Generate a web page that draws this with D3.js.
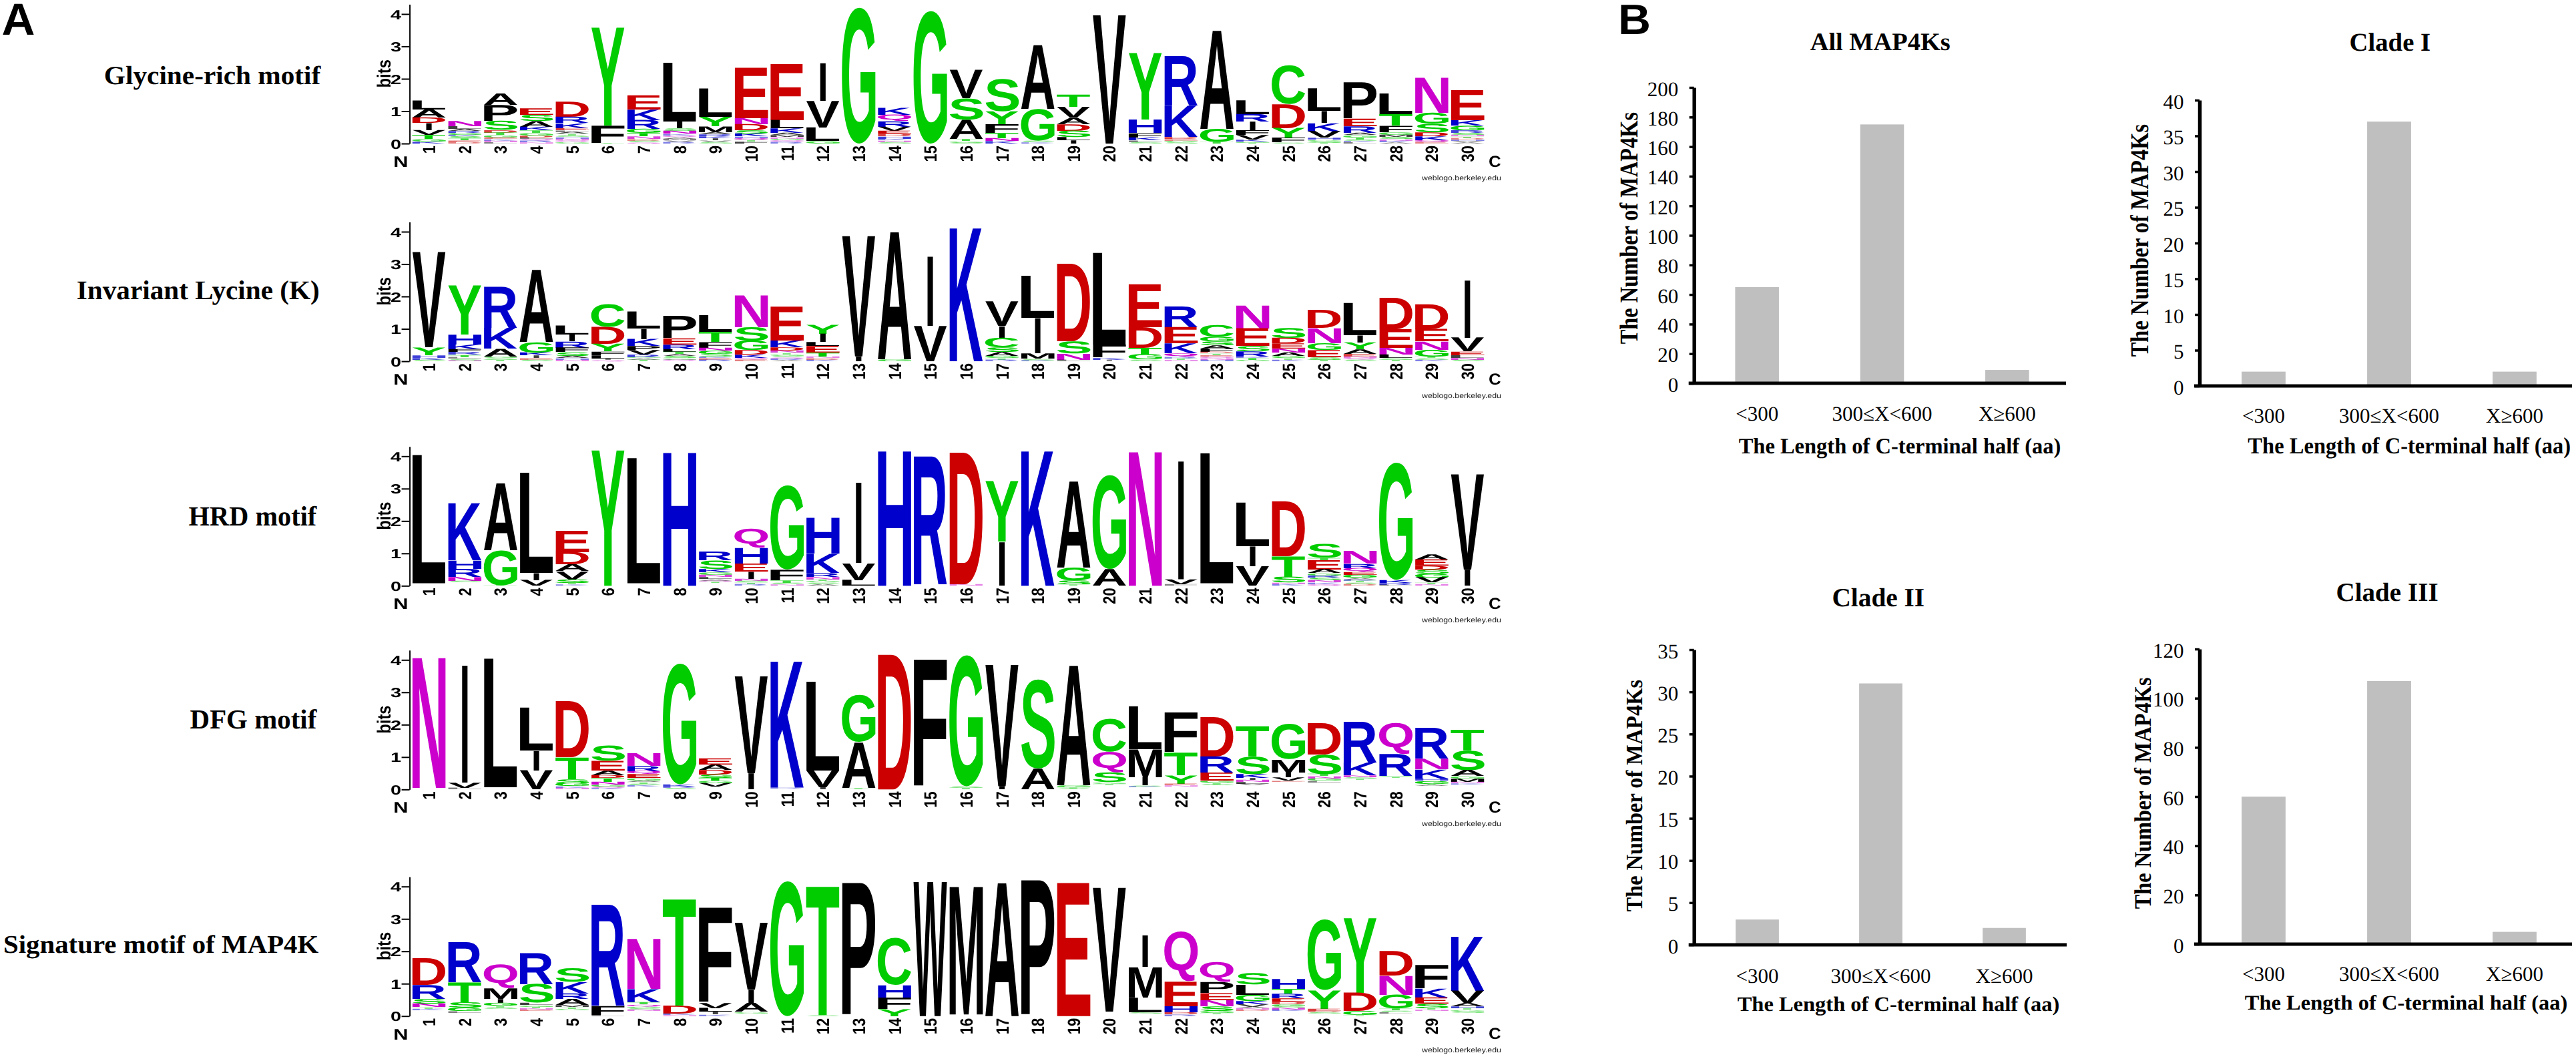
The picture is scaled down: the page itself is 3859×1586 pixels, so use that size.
<!DOCTYPE html>
<html><head><meta charset="utf-8">
<script src="https://cdn.jsdelivr.net/npm/d3@7/dist/d3.min.js"></script>
<style>html,body{margin:0;background:#fff}svg{display:block}text{text-rendering:geometricPrecision}</style>
</head><body><svg id="c" width="3859" height="1586"><defs><filter id="soft" x="0" y="0" width="100%" height="100%" filterUnits="objectBoundingBox"><feGaussianBlur stdDeviation="0.7"/></filter></defs></svg>
<script>
// ---- Sequence-logo values: one string per position, letters top to bottom with heights in bits ("_" = empty space)
const glycineRich = [
"L.28 A.26 D.17 I.22 V.15 T.12 G.08 K.06","N.16 L.08 A.07 R.06 G.06 K.05 S.06 T.06 E.05 D.05","A.36 P.5 S.28 D.08 T.08 G.07 E.05 K.05 N.05 L.04","E.2 S.19 A.18 K.11 T.08 G.08 D.06 L.05 Q.05 R.05 N.04","D.47 R.19 K.15 E.07 L.05 A.06 T.05 S.05 H.05 N.05 Q.05 G.05","Y3.03 F.54 T.02",
"E.44 K.33 R.28 G.13 T.1 N.08 D.05 S.05 Q.04","L1.82 I.22 S.08 N.09 K.05 Q.05 A.05 M.05 V.05 R.05","L.88 Y.29 M.18 A.07 R.06 K.06 I.06 V.05 S.05","E1.56 N.19 D.19 S.1 K.09 H.05 Q.06 T.05 F.06","E1.74 L.26 K.14 A.07 M.06 N.05 G.05 Q.05 R.05","I1.18 V.82 L.42 G.08",
"G4.2","K.22 Q.2 R.17 V.13 E.09 D.08 H.07 K.05 N.05 S.05","G4.1","V.88 S.66 A.6 T.06 G.05 S.03","S1.0 Y.4 F.27 T.16 N.09 K.08","A2.0 G.98 S.05 K.04",
"T.38 V.33 A.2 D.2 S.2 L.1 I.1","V3.97","Y2.06 H.42 F.13 K.09 L.05 S.05","R1.53 K.98 D.06 E.05 G.05 S.04","A3.08 G.4 T.06","L.43 R.23 I.27 F.15 V.14 K.06 G.03 T.03",
"C1.2 D.74 Y.3 F.15 S.03","L.7 I.37 K.26 V.2 H.06 G.05 S.04 T.03","P1.13 E.23 R.2 A.07 G.07 T.06 S.05 K.04 L.04","L.64 T.36 F.2 G.08 M.07 S.06 N.05 K.05 A.04","N1.1 G.34 S.26 D.12 K.12 Q.06 E.05","E.93 K.17 G.14 R.08 S.06 N.05 T.05 D.05 H.04 V.04 A.04"];
const invariantLysine = [
"V2.95 Y.24 H.08 K.06 S.05","Y1.52 H.31 K.15 F.09 R.08 T.07 L.05 S.05 N.03","R1.27 K.65 A.24 G.05 S.05 T.05","A2.26 G.32 K.09 I.08 E.05 S.05","L.28 I.21 R.19 F.14 S.11 A.07 H.05 N.05","C.7 D.53 Y.23 F.11 L.1 I.05 Q.04",
"L.53 I.32 K.22 P.12 V.14 R.08 G.03 A.05 T.05","P.69 E.19 R.14 L.09 T.07 A.06 S.06 G.05 Q.05","L.52 T.31 F.18 N.09 G.1 S.08 K.04 E.05 R.05","N1.0 S.42 G.3 D.14 K.1 Q.05 E.05","E1.05 K.21 D.1 N.07 T.05 G.05 S.04 Q.04 R.04 A.04","Y.28 I.26 L.12 E.2 T.12 N.05 D.05 K.05",
"V3.72 I.15","A3.99 G.06","I2.17 V1.09","K4.17","V.76 I.36 C.3 S.14 A.12 G.07 T.05 R.05","L1.3 I1.1 M.16 S.05 K.03",
"D2.4 S.37 N.19 L.05","L2.84 F.4 K.06 I.05","E1.33 D.64 T.21 G.16 S.05","R.64 E.5 K.31 Q.1 R.05 T.05 N.04","C.36 G.14 S.12 A.1 F.1 D.05 T.05 E.04 Q.05 N.05 H.05","N.72 E.55 S.16 R.16 K.04 T.06 G.05",
"S.31 D.17 E.16 N.12 A.11 G.06 T.05 K.05","D.56 N.47 G.21 E.22 S.08 T.05","L1.0 I.22 Y.21 A.14 E.08 N.05 Q.05 S.05","D.97 E.58 N.21 L.11 S.05 T.05","D.77 E.38 N.26 G.21 T.05 S.05 K.05","I1.8 V.43 E.11 L.08 N.06 S.05"];
const hrdMotif = [
"L3.97 _.08","K1.79 H.26 R.25 N.12 S.05 _.1","A2.1 G1.08 T.02","L3.1 I.22 V.18","E.66 D.38 A.21 V.25 S.11 T.05 K.04","Y4.19",
"L3.87 _.08","H4.17","R.27 S.26 K.1 G.08 N.07 L.06 A.05 Q.04 T.04 _.08","Q.59 H.49 E.25 I.22 N.07 S.05 T.05 R.05","G2.6 F.33 T.08 S.05 N.04","H1.12 K.6 R.12 N.08 T.05 G.05 S.05 A.05",
"I2.52 V.52 L.18","H4.22","R3.95 _.05","D4.07 N.05","Y1.87 I1.36","K4.22",
"A2.7 G.4 S.12 T.04","G2.9 A.52","N4.19","I3.7 V.15 F.05","L4.02 _.08","L1.35 I.62 V.6",
"D1.7 T.64 S.18 N.05 K.05","S.43 T.07 E.29 A.12 G.07 R.07 S.08 N.07 K.05 Q.05","N.4 R.13 Q.12 E.09 G.09 A.05 K.05 T.05 S.05 D.05","G3.63 K.09 R.06 L.03","A.16 E.19 D.12 S.12 G.12 V.16 T.05 N.05","V2.95 I.5"];
const dfgMotif = [
"N4.07 _.05","I3.67 V.16 L.05","L3.98 _.07","L1.33 I.61 V.59","D1.74 T.68 S.12 G.1 K.05 N.05","S.47 E.3 A.14 D.09 T.11 N.09 G.06 Q.05 K.04",
"N.4 R.16 Q.1 E.12 G.07 A.05 T.05 S.05 K.05 _.08","G3.73 K.07 R.05 S.04","E.19 A.17 D.14 S.1 T.09 G.08 V.11 _.08","V3.0 I.5","K3.95 R.03 _.03","L2.75 V.52 I.07",
"G1.45 A1.42 T.04","D4.17","F3.95 _.07","G4.05 S.05 T.05","V3.75 I.1","S2.75 A.65",
"A3.75 G.06 T.04 S.03","C1.02 Q.64 S.3 G.05 T.04 _.14","L1.33 M.87 I.26 S.03 K.03 _.06","F1.24 T.71 Y.26 E.05 N.04 _.08","D1.22 R.5 E.25 G.06 T.05 S.04 _.12","T.95 S.54 K.12 I.06 N.07 L.06 V.05 _.12",
"G1.09 M.4 I.16 V.1 E.03 _.24","D.97 S.6 T.07 N.07 G.07 L.05 _.22","R1.26 K.4 N.06 S.04 T.04 _.3","Q.96 R.68 G.03 T.03 _.35","R.95 N.33 K.28 H.07 G.09 T.04 A.04 _.1","T.65 S.6 A.19 G.07 M.1 N.05 K.04 _.15"];
const signatureMotif = [
"D.83 R.43 S.14 N.11 T.05 K.05 _.18","R1.24 T.62 S.17 G.1 L.05 _.1","Q.74 M.33 I.12 G.09 T.05 S.05 _.22","R.96 S.58 L.07 G.05 T.05 N.05 E.04 _.15","S.42 K.36 R.17 A.19 M.06 T.05 G.05 _.18","R3.12 F.28 L.04",
"N1.57 K.41 T.07 Q.06 G.05 S.05 N.05 _.15","T3.33 D.25 K.05 N.03","F2.95 V.16 L.12 I.08 K.05","V2.07 I.41 A.27 G.05 _.08","G4.17","T4.03 S.03",
"P4.12","C1.46 H.38 F.36 Y.22","W4.15","M4.0 _.05","A4.17","P4.2",
"E4.12","V3.83 _.14","I.99 M.95 L.45 S.04 _.08","Q1.54 E.76 H.19 D.07 R.05","Q.62 P.34 E.22 N.19 S.14 G.06 T.04 _.06","S.35 L.31 G.19 K.1 V.08 A.05 N.05 D.04 _.15",
"H.31 T.14 R.14 E.1 D.08 G.06 S.05 N.06 K.05 _.15","G2.18 Y.57 E.07 D.04 S.05 _.07","Y2.31 D.57 G.12 T.03","D.76 N.59 G.43 T.06 S.05 L.04 _.08","F.73 K.28 E.19 S.14 T.05 N.04 _.15","K1.7 V.38 A.1 H.06 T.05 G.05 S.04 _.1"];
const logoLabels = ["Glycine-rich motif","Invariant Lycine (K)","HRD motif","DFG motif","Signature motif of MAP4K"];
const logoSeries = [glycineRich,invariantLysine,hrdMotif,dfgMotif,signatureMotif];
const bitTicks = [0,1,2,3,4];
const positions = d3.range(1,31);

// ---- Bar chart values
const lengthCategories = ["<300","300≤X<600","X≥600"];
const allCounts = [65,175,9];
const cladeICounts = [2,37,2];
const cladeIICounts = [3,31,2];
const cladeIIICounts = [60,107,5];
const barTitles = ["All MAP4Ks","Clade I","Clade II","Clade III"];
const barSeries = [allCounts,cladeICounts,cladeIICounts,cladeIIICounts];
const yMaxes = [200,40,35,120];
const yTickSteps = [20,5,5,20];
const xTitle = "The Length of C-terminal half (aa)";
const yTitle = "The Number of MAP4Ks";

// ---- Layout and style (kept apart from the values)
const residueColor = {G:"#00CC00",S:"#00CC00",T:"#00CC00",Y:"#00CC00",C:"#00CC00",N:"#CC00CC",Q:"#CC00CC",K:"#0000CC",R:"#0000CC",H:"#0000CC",D:"#CC0000",E:"#CC0000"};
const logoBaselines = [215,541,877.3,1182.3,1521.7];
const logoLabelBoxes = [[157.5,98,481,134],[116,420,477,457],[283,757,475,787],[285,1062,475,1092],[7,1400,477,1435]];
const logoPerBit = 48.5;
const panelBoxes = [
 {axis:2537.7,y0:574,top:131,end:3095,band:[2538.5,3100.5],title:[2711.7,49.6,2921,75.8],xt:[2605,655,3086,686],yt:[2426,168,2454,515],ty:56},
 {axis:3295,y0:578,top:150,end:3853,band:[3297,3861],title:[3521,49.6,3640,77],xt:[3367.7,654.6,3849.7,686.7],yt:[3191,186,3219,534],ty:55},
 {axis:2537.7,y0:1415,top:973,end:3096,band:[2540,3095],title:[2746,881,2882,909],xt:[2603,1492,3084,1520.7],yt:[2435,1018,2460.5,1365],ty:56.6},
 {axis:3295,y0:1414,top:972,end:3853,band:[3297,3861],title:[3501,873,3651.5,901],xt:[3363,1490,3845,1519],yt:[3196.5,1014.5,3222.5,1361],ty:55}
];

const svg = d3.select("#c");
const ctx = document.createElement("canvas").getContext("2d");
const SANS="Liberation Sans", SERIF="Liberation Serif";
const cache = {};
function ink(str,fam,wt){
  const k=str+"|"+fam+"|"+wt;
  if(cache[k]) return cache[k];
  ctx.font=`${wt} 100px "${fam}"`;
  const m=ctx.measureText(str);
  return cache[k]={L:m.actualBoundingBoxLeft,R:m.actualBoundingBoxRight,A:m.actualBoundingBoxAscent,D:m.actualBoundingBoxDescent};
}
function base(g,str,fam,wt,fill){
  return g.append("text").text(str).attr("font-family",fam).attr("font-size",100).attr("font-weight",wt).attr("fill",fill||"#000");
}
// text stretched so that its ink fills the box
function fit(g,str,[x0,y0,x1,y1],fam,wt,fill){
  const m=ink(str,fam,wt), sx=(x1-x0)/(m.L+m.R), sy=(y1-y0)/(m.A+m.D);
  return base(g,str,fam,wt,fill).attr("transform",`translate(${x0+m.L*sx},${y0+m.A*sy}) scale(${sx},${sy})`);
}
// same, reading upward
function fitUp(g,str,[x0,y0,x1,y1],fam,wt,fill){
  const m=ink(str,fam,wt), sa=(y1-y0)/(m.L+m.R), sp=(x1-x0)/(m.A+m.D);
  return base(g,str,fam,wt,fill).attr("transform",`translate(${x0+m.A*sp},${y1-m.L*sa}) rotate(-90) scale(${sa},${sp})`);
}

// Panel letters
fit(svg,"A",[4,5,51,52],SANS,"bold");
fit(svg,"B",[2428,7,2470,51],SANS,"bold");

// ---- Sequence logos
const xBand = d3.scaleBand().domain(positions).range([642.6-53.65/2,2198.5+53.65/2]);
logoSeries.forEach((cols,i)=>{
  const y0=logoBaselines[i];
  const outer=svg.append("g");
  const g=outer.append("g").attr("filter","url(#soft)");
  const yB=d3.scaleLinear().domain([0,4.3]).range([y0,y0-4.3*logoPerBit]);
  fit(outer,logoLabels[i],logoLabelBoxes[i],SERIF,"bold");
  cols.forEach((col,ci)=>{
    const items=col.split(" ").map(t=>[t[0],+t.slice(1)]);
    const cx=xBand(positions[ci])+xBand.bandwidth()/2;
    let top=d3.sum(items,d=>d[1]);
    items.forEach(([ch,h])=>{
      const yT=yB(top), yBot=yB(top-h);
      top-=h;
      if(ch==="_") return;
      const w=ch==="I"?9:xBand.bandwidth()*0.94;
      fit(g,ch,[cx-w/2,yT,cx+w/2,yBot],SANS,"bold",residueColor[ch]||"#000")
        .attr("fill-opacity",h<.06?.5:h<.09?.75:1);
    });
    // position label
    g.append("text").text(positions[ci]).attr("font-family",SANS).attr("font-weight","bold").attr("font-size",20).attr("text-anchor","end")
      .attr("transform",`translate(${cx+9.5},${y0+3}) rotate(-90) scale(1.1,1.33)`);
  });
  const ax=g.append("g").attr("transform",`translate(613.6,0)`)
    .call(d3.axisLeft(yB).tickValues(bitTicks).tickFormat(d3.format("d")).tickSize(12).tickSizeOuter(0));
  ax.selectAll(".domain,.tick line").attr("stroke","#000").attr("stroke-width",2);
  ax.selectAll(".tick text").attr("font-family",SANS).attr("font-weight","bold").attr("font-size",20).attr("fill","#000")
    .attr("x",null).attr("dy",null).attr("transform","translate(-12.5,7) scale(1.45,1)");
  fitUp(g,"bits",[564,y0-125,585,y0-85],SANS,"bold");
  fit(g,"N",[591,y0+19,609.5,y0+35],SANS,"bold");
  fit(g,"C",[2231,y0+18,2248,y0+35],SANS,"bold");
  fit(g,"weblogo.berkeley.edu",[2130,y0+47,2248,y0+57],SANS,"normal","#222");
});

// ---- Bar charts
barSeries.forEach((vals,i)=>{
  const p=panelBoxes[i], g=svg.append("g");
  const y=d3.scaleLinear().domain([0,yMaxes[i]]).range([p.y0,p.top]);
  const x=d3.scaleBand().domain(lengthCategories).range(p.band).paddingInner(.65).paddingOuter(.325);
  g.selectAll("rect").data(vals).join("rect")
    .attr("x",(d,j)=>x(lengthCategories[j])).attr("width",x.bandwidth())
    .attr("y",d=>y(d)).attr("height",d=>y(0)-y(d)).attr("fill","#BFBFBF");
  const ay=g.append("g").attr("transform",`translate(${p.axis},0)`)
    .call(d3.axisLeft(y).tickValues(d3.range(0,yMaxes[i]+1,yTickSteps[i])).tickSize(7).tickSizeOuter(0).tickPadding(16.5));
  ay.select(".domain").attr("stroke","#000").attr("stroke-width",5.5);
  ay.selectAll(".tick line").attr("stroke","#000").attr("stroke-width",3.5);
  ay.selectAll(".tick text").attr("font-family",SERIF).attr("font-size",31).attr("fill","#000").attr("dy",null).attr("y",12);
  const ax=g.append("g").attr("transform",`translate(0,${p.y0})`)
    .call(d3.axisBottom(x).tickSize(0).tickPadding(0));
  ax.select(".domain").remove();
  ax.selectAll(".tick text").attr("font-family",SERIF).attr("font-size",31).attr("fill","#000").attr("dy",null).attr("y",p.ty);
  g.append("line").attr("x1",p.axis-8).attr("x2",p.end).attr("y1",y(0)).attr("y2",y(0)).attr("stroke","#000").attr("stroke-width",5);
  fit(g,barTitles[i],p.title,SERIF,"bold");
  fit(g,xTitle,p.xt,SERIF,"bold");
  fitUp(g,yTitle,p.yt,SERIF,"bold");
});
</script></body></html>
